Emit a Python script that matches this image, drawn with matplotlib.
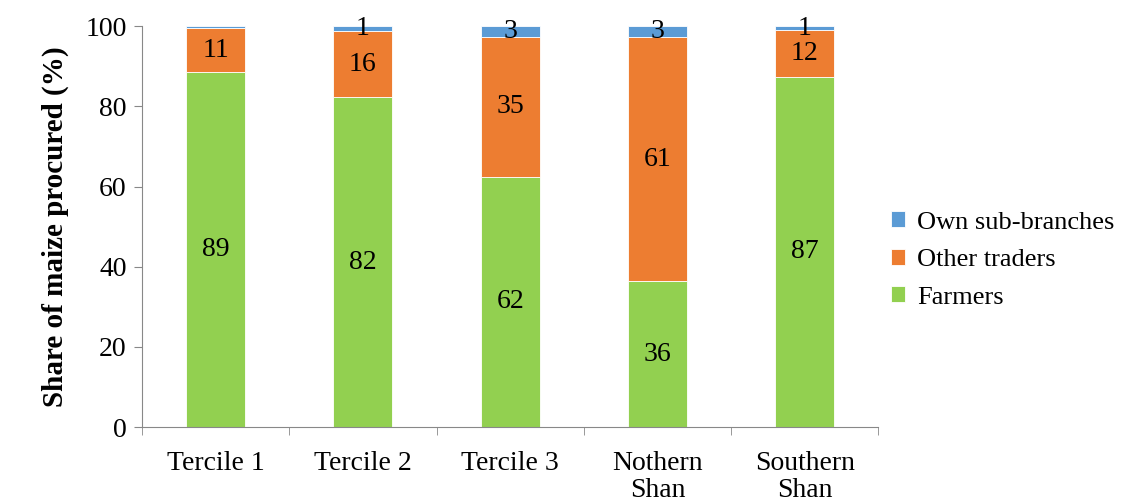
import numpy as np
import matplotlib
matplotlib.use("Agg")
import matplotlib.pyplot as plt

plt.rcParams['font.family'] = ['Liberation Serif', 'DejaVu Serif']

groups = ["Tercile 1", "Tercile 2", "Tercile 3", "Nothern\nShan", "Southern\nShan"]
farmers = [88.6, 82.3, 62.4, 36.4, 87.4]
other_traders = [10.9, 16.4, 34.9, 60.9, 11.6]
own_branches = [0.5, 1.3, 2.7, 2.7, 1.0]

series = [("Farmers", farmers, "#92D050"),
          ("Other traders", other_traders, "#ED7D31"),
          ("Own sub-branches", own_branches, "#5B9BD5")]

fs = 20
fig = plt.figure(figsize=(11.33, 5.03), dpi=100)
ax = fig.add_axes([0.1253, 0.151, 0.650, 0.797])

x = np.arange(len(groups))
bottom = np.zeros(len(groups))
handles = []
for name, vals, col in series:
    vals = np.array(vals)
    b = ax.bar(x, vals, 0.4, bottom=bottom, color=col, edgecolor="white", linewidth=0.6, label=name)
    handles.append(b)
    for xi, v, b0 in zip(x, vals, bottom):
        if round(v) >= 1:
            ax.text(xi, b0 + v / 2, f"{round(v):d}", ha="center", va="center", fontsize=fs)
    bottom += vals

ax.set_xlim(-0.5, len(groups) - 0.5)
ax.set_ylim(0, 100)
ax.set_yticks(range(0, 101, 20))
ax.tick_params(axis="y", labelsize=fs, length=6, color="#888888", pad=5)
ax.set_xticks(x)
ax.set_xticklabels(groups, fontsize=fs, linespacing=1.1)
ax.tick_params(axis="x", length=0, pad=17)
ax.set_xticks(np.arange(-0.5, len(groups)), minor=True)
ax.tick_params(axis="x", which="minor", length=6, color="#888888")
for s in ["top", "right"]:
    ax.spines[s].set_visible(False)
for s in ["left", "bottom"]:
    ax.spines[s].set_color("#888888")

ax.set_ylabel("Share of maize procured (%)", fontsize=21, fontweight="bold", labelpad=12)

fig.legend(handles[::-1], [h.get_label() for h in handles[::-1]],
           loc="center left", bbox_to_anchor=(0.786, 0.483), frameon=False,
           borderpad=0, borderaxespad=0,
           fontsize=19, handlelength=0.55, handleheight=0.55, handletextpad=0.45,
           labelspacing=0.58)

fig.savefig("out.png", dpi=100)
